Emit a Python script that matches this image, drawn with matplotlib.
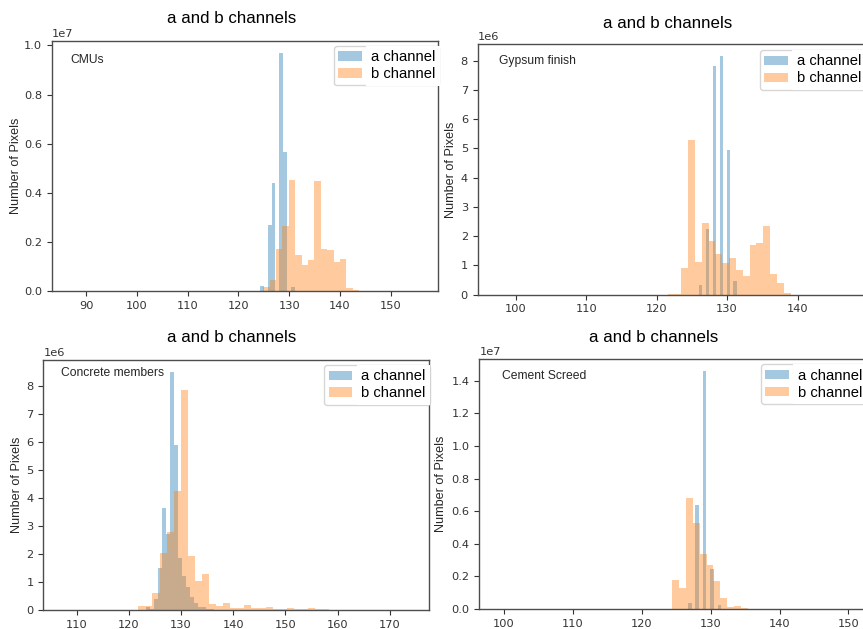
import numpy as np
import matplotlib
matplotlib.use("Agg")
import matplotlib.pyplot as plt
from matplotlib.font_manager import FontProperties

# histogram bins: first bin edge, bin width, counts per bin
# CMUs (counts x1e7)
cmu_a_start, cmu_a_width = 124.2, 0.77
cmu_a_counts = [0.021, 0.0, 0.27, 0.44, 0.0, 0.97, 0.566, 0.0, 0.015]
cmu_b_start, cmu_b_width = 124.9, 1.257
cmu_b_counts = [0.015, 0.045, 0.17, 0.264, 0.454, 0.146, 0.106, 0.126, 0.45,
                0.169, 0.167, 0.12, 0.13, 0.013, 0.003]

# Gypsum finish (counts x1e6)
gyp_a_start, gyp_a_width = 126.0, 0.49
gyp_a_counts = [0.33, 0.0, 2.24, 0.0, 7.8, 0.0, 8.15, 0.0, 4.95, 0.0, 0.48]
gyp_b_start, gyp_b_width = 121.56, 0.97
gyp_b_counts = [0.03, 0.03, 0.9, 5.3, 1.13, 2.44, 1.85, 1.39, 1.07, 1.27,
                0.85, 0.64, 1.7, 1.76, 2.35, 0.71, 0.41, 0.05]

# Concrete members (counts x1e6)
con_a_start, con_a_width = 123.27, 0.77
con_a_counts = [0.12, 0.05, 0.4, 1.5, 3.64, 2.7, 8.49, 5.87, 1.86, 1.2, 0.83,
                0.45, 0.25, 0.12, 0.1, 0.05, 0.03]
con_b_start, con_b_width = 121.8, 1.355
con_b_counts = [0.15, 0.15, 0.62, 2.05, 2.78, 4.24, 7.86, 1.92, 1.03, 1.27,
                0.2, 0.14, 0.26, 0.08, 0.08, 0.17, 0.08, 0.08, 0.12, 0.05,
                0.05, 0.08, 0.03, 0.03, 0.06, 0.02, 0.02, 0.01]

# Cement Screed (counts x1e7)
cem_a_start, cem_a_width = 126.68, 0.54
cem_a_counts = [0.035, 0.0, 0.64, 0.0, 1.46, 0.0, 0.243, 0.0, 0.025]
cem_b_start, cem_b_width = 124.4, 1.0
cem_b_counts = [0.175, 0.13, 0.68, 0.53, 0.335, 0.27, 0.17, 0.065, 0.01, 0.02,
                0.005]

arial = "Liberation Sans"


def draw(ax, name, a, b, scale, xlim, title_x, title_pad, note_xy, ylab_x, leg_xy):
    for (start, width, counts), lab in ((a, "a channel"), (b, "b channel")):
        counts = np.array(counts) * scale
        edges = start + width * np.arange(len(counts) + 1)
        ax.hist(edges[:-1], bins=edges, weights=counts, alpha=0.4, label=lab)
    ax.set_xlim(*xlim)
    ax.set_title("a and b channels", family=arial, fontsize=12.2, x=title_x, pad=title_pad)
    ax.set_ylabel("Number of Pixels", family=arial, fontsize=9.1, color="0.15")
    ax.yaxis.set_label_coords(ylab_x, 0.5)
    ax.text(note_xy[0], note_xy[1], name, transform=ax.transAxes, family=arial,
            fontsize=8.7, va="center", ha="left", color="0.15")
    ax.tick_params(labelsize=8.2, length=3.5, colors="0.2")
    ax.yaxis.get_offset_text().set_fontsize(8.2)
    for s in ax.spines.values():
        s.set_color("0.3")
        s.set_linewidth(1.0)
    leg = ax.legend(loc="upper left", bbox_to_anchor=leg_xy, borderaxespad=0,
                    prop=FontProperties(family=arial, size=10.6),
                    handlelength=1.6, handleheight=0.6, handletextpad=0.6,
                    borderpad=0.3, labelspacing=0.2)
    for t in leg.get_texts():
        t.set_bbox(dict(facecolor="white", edgecolor="none", pad=3.3))


fig = plt.figure(figsize=(8.63, 6.29), dpi=100)

ax1 = fig.add_axes([0.0603, 0.5374, 0.4473, 0.3975])
draw(ax1, "CMUs", (cmu_a_start, cmu_a_width, cmu_a_counts),
     (cmu_b_start, cmu_b_width, cmu_b_counts), 1e7, (83.3, 159.3),
     0.466, 12.7, (0.047, 0.924), -0.0785, (0.73, 0.981))

ax2 = fig.add_axes([0.5535, 0.5315, 0.4473, 0.3981])
draw(ax2, "Gypsum finish", (gyp_a_start, gyp_a_width, gyp_a_counts),
     (gyp_b_start, gyp_b_width, gyp_b_counts), 1e6, (94.57, 149.4),
     0.493, 11.5, (0.055, 0.933), -0.054, (0.731, 0.977))

ax3 = fig.add_axes([0.0502, 0.0302, 0.4469, 0.3975])
draw(ax3, "Concrete members", (con_a_start, con_a_width, con_a_counts),
     (con_b_start, con_b_width, con_b_counts), 1e6, (103.6, 177.5),
     0.489, 12.7, (0.045, 0.947), -0.053, (0.729, 0.98))

ax4 = fig.add_axes([0.5554, 0.0318, 0.4469, 0.3975])
draw(ax4, "Cement Screed", (cem_a_start, cem_a_width, cem_a_counts),
     (cem_b_start, cem_b_width, cem_b_counts), 1e7, (96.4, 152.4),
     0.452, 12.4, (0.06, 0.933), -0.083, (0.730, 0.979))

fig.savefig("out.png", dpi=100)
